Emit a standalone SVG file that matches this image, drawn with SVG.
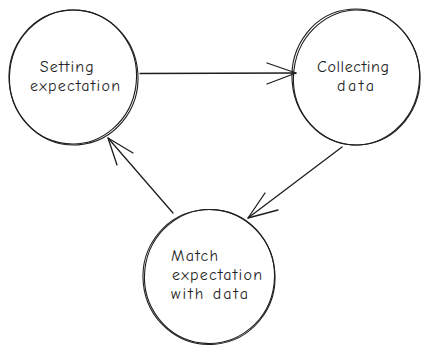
<svg xmlns="http://www.w3.org/2000/svg" width="430" height="354" viewBox="0 0 430 354">
  <style>
    .ring { fill: none; stroke: #1e1e1e; stroke-width: 1.1; stroke-linecap: round; }
    .edge { fill: none; stroke: #1e1e1e; stroke-width: 1.3; stroke-linecap: round; stroke-linejoin: round; }
    .label { font-family: "Comic Neue", "Liberation Sans", sans-serif; font-size: 16px; fill: #1e1e1e; }
  </style>
  <rect width="430" height="354" fill="#ffffff"/>

  <g id="node-setting">
    <ellipse class="ring" cx="73.5" cy="77.5" rx="64.5" ry="67.5" transform="rotate(-4 73.5 77.5)"/>
    <ellipse class="ring" cx="73" cy="77" rx="63.5" ry="67" transform="rotate(6 73 77)"/>
    <text class="label" text-anchor="middle">
      <tspan x="70" y="72" textLength="54">Setting</tspan>
      <tspan x="75" y="91" textLength="90">expectation</tspan>
    </text>
  </g>

  <g id="node-collecting">
    <ellipse class="ring" cx="356" cy="77" rx="64" ry="68" transform="rotate(-5 356 77)"/>
    <ellipse class="ring" cx="356.5" cy="77.5" rx="63" ry="67.5" transform="rotate(7 356.5 77.5)"/>
    <text class="label" text-anchor="middle">
      <tspan x="356" y="72" textLength="72">Collecting</tspan>
      <tspan x="355.5" y="91" textLength="37">data</tspan>
    </text>
  </g>

  <g id="node-match">
    <ellipse class="ring" cx="209" cy="277" rx="66" ry="67.5" transform="rotate(-5 209 277)"/>
    <ellipse class="ring" cx="209.5" cy="276.5" rx="65" ry="67" transform="rotate(6 209.5 276.5)"/>
    <text class="label">
      <tspan x="171" y="261" textLength="47">Match</tspan>
      <tspan x="172" y="280" textLength="90">expectation</tspan>
      <tspan x="171" y="299" textLength="77">with data</tspan>
    </text>
  </g>

  <g id="connectors">
    <!-- Setting expectation -> Collecting data -->
    <path class="edge" d="M140 73.5 L296 73"/>
    <path class="edge" d="M267 63 L296 73 L267 84"/>
    <!-- Collecting data -> Match expectation with data -->
    <path class="edge" d="M342 147 L248 218"/>
    <path class="edge" d="M265 193 L248 218 L278 210"/>
    <!-- Match expectation with data -> Setting expectation -->
    <path class="edge" d="M173 213 L108 138"/>
    <path class="edge" d="M117 165 L108 138 L133 153"/>
  </g>
</svg>
